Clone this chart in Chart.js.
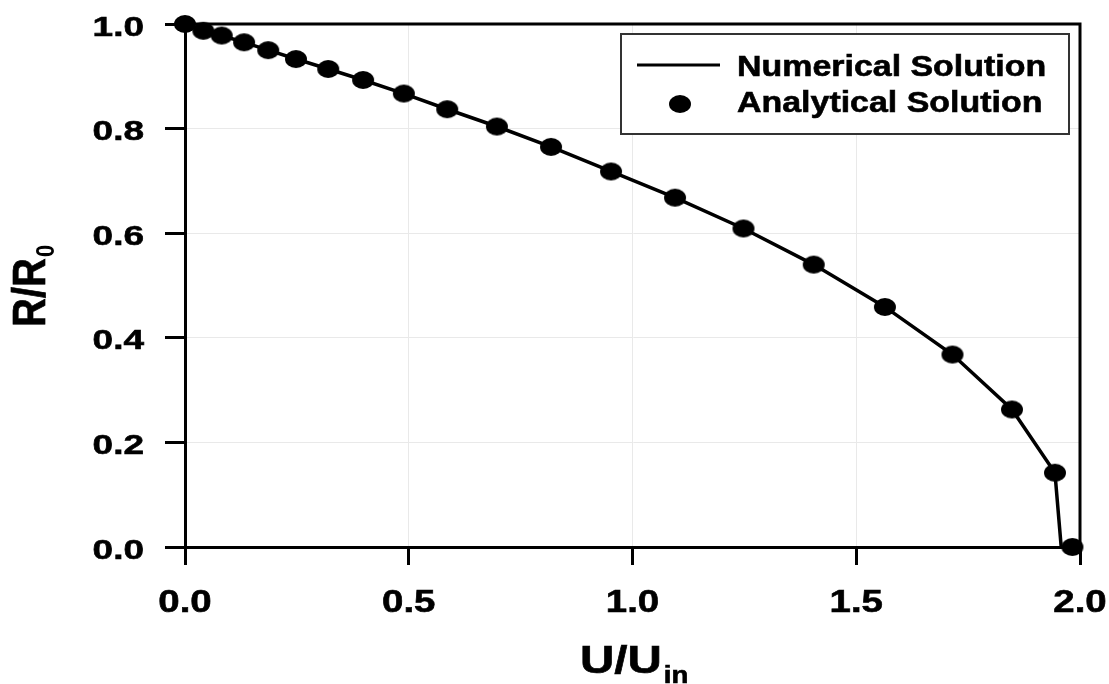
<!DOCTYPE html>
<html>
<head>
<meta charset="utf-8">
<script src="https://cdn.jsdelivr.net/npm/chart.js@4.4.1/dist/chart.umd.min.js"></script>
<style>
html,body{margin:0;padding:0;background:#fff;}
#wrap{width:1109px;height:684px;position:relative;}
</style>
</head>
<body>
<div id="wrap"><canvas id="c" width="1109" height="684"></canvas></div>
<script>
// ---- data ----
const analyticalU = [0.0, 0.041, 0.082, 0.132, 0.186, 0.248, 0.320, 0.398, 0.489, 0.586, 0.697, 0.818, 0.952, 1.095, 1.248, 1.405, 1.564, 1.715, 1.848, 1.944, 1.983];
const analyticalR = [1.0, 0.987, 0.978, 0.965, 0.950, 0.933, 0.914, 0.893, 0.867, 0.837, 0.804, 0.765, 0.718, 0.668, 0.609, 0.540, 0.459, 0.368, 0.263, 0.142, 0.0];
const numericalU = [0.0, 0.041, 0.082, 0.132, 0.186, 0.248, 0.320, 0.398, 0.489, 0.586, 0.697, 0.818, 0.952, 1.095, 1.248, 1.405, 1.564, 1.715, 1.848, 1.944, 1.958, 1.983];
const numericalR = [1.0, 0.987, 0.978, 0.965, 0.950, 0.933, 0.914, 0.893, 0.867, 0.837, 0.804, 0.765, 0.718, 0.668, 0.609, 0.540, 0.459, 0.368, 0.263, 0.142, 0.0, 0.0];
const seriesNames = ["Numerical Solution", "Analytical Solution"];
const xTickValues = [0.0, 0.5, 1.0, 1.5, 2.0];
const yTickValues = [0.0, 0.2, 0.4, 0.6, 0.8, 1.0];
const xTitle = ["U/U", "in"];
const yTitle = ["R/R", "0"];

const FONT = '"Liberation Sans", Arial, sans-serif';

// elliptical marker
const marker = document.createElement('canvas');
marker.width = 24; marker.height = 20;
(function(){
  const m = marker.getContext('2d');
  m.fillStyle = '#000';
  m.beginPath();
  m.ellipse(12, 10, 11, 9, 0, 0, Math.PI*2);
  m.fill();
})();

function txt(ctx, s, x, y, size, sx, align) {
  ctx.save();
  ctx.font = 'bold ' + size + 'px ' + FONT;
  const w = ctx.measureText(s).width * sx;
  let x0 = x;
  if (align === 'right') x0 = x - w;
  else if (align === 'center') x0 = x - w / 2;
  ctx.translate(x0, y);
  ctx.scale(sx, 1);
  ctx.textAlign = 'left';
  ctx.textBaseline = 'alphabetic';
  ctx.fillStyle = '#000';
  ctx.strokeStyle = '#000';
  ctx.lineWidth = 0.6;
  ctx.fillText(s, 0, 0);
  ctx.strokeText(s, 0, 0);
  ctx.restore();
  return w;
}

const decor = {
  id: 'decor',
  beforeDatasetsDraw(chart) {
    const ctx = chart.ctx, a = chart.chartArea;
    ctx.save();
    ctx.strokeStyle = '#000';
    ctx.lineWidth = 3;
    ctx.beginPath();
    ctx.moveTo(a.left, a.top);
    ctx.lineTo(a.right, a.top);
    ctx.lineTo(a.right, a.bottom);
    ctx.stroke();
    ctx.restore();
  },
  afterDraw(chart) {
    const ctx = chart.ctx;
    const xs = chart.scales.x, ys = chart.scales.y;
    // tick labels
    xs.ticks.forEach(t => {
      txt(ctx, t.value.toFixed(1), xs.getPixelForValue(t.value), 612, 32, 1.2, 'center');
    });
    ys.ticks.forEach(t => {
      txt(ctx, t.value.toFixed(1), 144, ys.getPixelForValue(t.value) + 11.5, 28, 1.32, 'right');
    });
    // x title
    const w = txt(ctx, xTitle[0], 580, 673, 38, 1.25, 'left');
    txt(ctx, xTitle[1], 580 + w + 2, 683, 23, 1.2, 'left');
    // y title (rotated)
    ctx.save();
    ctx.translate(45, 327);
    ctx.scale(1.15, 1);
    ctx.rotate(-Math.PI / 2);
    ctx.font = 'bold 40px ' + FONT;
    ctx.fillStyle = '#000';
    ctx.strokeStyle = '#000';
    ctx.lineWidth = 0.6;
    ctx.textBaseline = 'alphabetic';
    ctx.fillText(yTitle[0], 0, 0);
    ctx.strokeText(yTitle[0], 0, 0);
    const yw = ctx.measureText(yTitle[0]).width;
    ctx.font = 'bold 22px ' + FONT;
    ctx.fillText(yTitle[1], yw + 1, 8);
    ctx.restore();
    // legend
    ctx.save();
    ctx.strokeStyle = '#333';
    ctx.lineWidth = 2;
    ctx.fillStyle = '#fff';
    ctx.fillRect(621, 34, 448, 100);
    ctx.strokeRect(621, 34, 448, 100);
    ctx.strokeStyle = '#000';
    ctx.lineWidth = 3;
    ctx.beginPath();
    ctx.moveTo(637, 65);
    ctx.lineTo(720, 65);
    ctx.stroke();
    ctx.drawImage(marker, 680 - 12, 104 - 10);
    ctx.restore();
    txt(ctx, seriesNames[0], 737, 76, 29, 1.17, 'left');
    txt(ctx, seriesNames[1], 737, 112, 29, 1.17, 'left');
  }
};

const toPts = (xs, ys) => xs.map((x, i) => ({x: x, y: ys[i]}));

new Chart(document.getElementById('c'), {
  type: 'scatter',
  data: {
    datasets: [
      {
        label: seriesNames[1],
        data: toPts(analyticalU, analyticalR),
        showLine: false,
        pointStyle: marker,
        pointRadius: 10,
        pointHoverRadius: 10,
        backgroundColor: '#000',
        borderColor: '#000',
        clip: false,
        order: 0
      },
      {
        label: seriesNames[0],
        data: toPts(numericalU, numericalR),
        showLine: true,
        borderColor: '#000',
        borderWidth: 3.5,
        pointRadius: 0,
        pointHoverRadius: 0,
        tension: 0,
        fill: false,
        clip: false,
        order: 1
      }
    ]
  },
  options: {
    responsive: false,
    animation: false,
    events: [],
    layout: { padding: { top: 24, right: 29, left: 0, bottom: 0 } },
    plugins: { legend: { display: false }, tooltip: { enabled: false } },
    scales: {
      x: {
        type: 'linear',
        min: 0, max: 2,
        afterBuildTicks: s => { s.ticks = xTickValues.map(v => ({value: v})); },
        ticks: { display: false },
        grid: { color: '#e9e9e9', lineWidth: 1, tickLength: 18, tickColor: '#000', tickWidth: 3, drawTicks: true },
        border: { color: '#000', width: 3 },
        afterFit: s => { s.height = 137; }
      },
      y: {
        type: 'linear',
        min: 0, max: 1,
        afterBuildTicks: s => { s.ticks = yTickValues.map(v => ({value: v})); },
        ticks: { display: false },
        grid: { color: '#e9e9e9', lineWidth: 1, tickLength: 20, tickColor: '#000', tickWidth: 3, drawTicks: true },
        border: { color: '#000', width: 3 },
        afterFit: s => { s.width = 185; }
      }
    }
  },
  plugins: [decor]
});
</script>
</body>
</html>
